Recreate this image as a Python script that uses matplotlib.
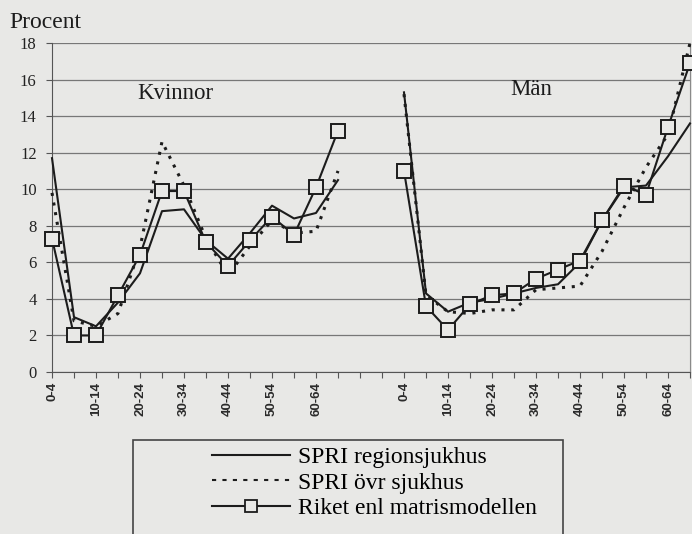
import matplotlib
matplotlib.use('Agg')
import matplotlib.pyplot as plt
import numpy as np
from matplotlib.lines import Line2D
from matplotlib.patches import Rectangle

# age groups, same for both sexes
ages = ['0-4', '5-9', '10-14', '15-19', '20-24', '25-29', '30-34',
        '35-39', '40-44', '45-49', '50-54', '55-59', '60-64', '65-69']

# Kvinnor
kv_region = [11.7, 3.0, 2.5, 3.8, 5.4, 8.8, 8.9, 7.2, 6.2, 7.6, 9.1, 8.4, 8.7, 10.5]
kv_ovr = [9.8, 2.8, 2.5, 3.2, 6.8, 12.6, 10.2, 7.3, 5.3, 6.9, 8.3, 7.6, 7.7, 11.0]
kv_riket = [7.3, 2.0, 2.0, 4.2, 6.4, 9.9, 9.9, 7.1, 5.8, 7.2, 8.5, 7.5, 10.1, 13.2]

# Män
man_region = [15.3, 4.3, 3.3, 3.8, 4.0, 4.3, 4.6, 4.8, 6.0, 8.3, 10.1, 10.2, 11.8, 13.6]
man_ovr = [15.2, 4.2, 3.3, 3.2, 3.4, 3.4, 4.5, 4.6, 4.7, 6.6, 9.0, 11.2, 13.0, 18.0]
man_riket = [11.0, 3.6, 2.3, 3.7, 4.2, 4.3, 5.1, 5.6, 6.1, 8.3, 10.2, 9.7, 13.4, 16.9]

series_names = ['SPRI regionsjukhus', 'SPRI övr sjukhus', 'Riket enl matrismodellen']

BG = '#e8e8e6'
INK = '#1c1c1c'
SERIF = 'Liberation Serif'

plt.rcParams['font.family'] = SERIF

fig = plt.figure(figsize=(6.92, 5.34), dpi=100, facecolor=BG)
ax = fig.add_axes([52/692, 1-372/534, (690-52)/692, (372-43)/534])
ax.set_facecolor(BG)

n = len(ages)
gap = 2
x_kv = np.arange(n)
x_man = np.arange(n) + n + gap

dots = (0, (1.0, 2.2))
for xs, reg, ovr, rik in [(x_kv, kv_region, kv_ovr, kv_riket),
                          (x_man, man_region, man_ovr, man_riket)]:
    ax.plot(xs, reg, color=INK, lw=1.5, zorder=3, clip_on=False)
    ax.plot(xs, ovr, color=INK, lw=2.2, ls=dots, zorder=3, clip_on=False)
    ax.plot(xs, rik, color=INK, lw=1.5, marker='s', ms=9.5, mfc=BG,
            mec=INK, mew=1.4, zorder=4, clip_on=False)

ax.set_xlim(0, 2*n + gap - 1)
ax.set_ylim(0, 18)
ax.set_yticks(np.arange(0, 19, 2))
ax.yaxis.grid(True, color='#777777', lw=0.9)
ax.set_axisbelow(True)

xt = np.arange(2*n + gap)
xl = []
for i in xt:
    if i < n and i % 2 == 0:
        xl.append(ages[i])
    elif i >= n + gap and (i - n - gap) % 2 == 0:
        xl.append(ages[i - n - gap])
    else:
        xl.append('')
ax.set_xticks(xt)
ax.set_xticklabels(xl, rotation=90, family='Liberation Sans',
                   fontweight='bold', fontsize=9.5, color='#2a2a2a')
ax.tick_params(axis='x', length=4, width=0.8, color='#555555', pad=3)
ax.tick_params(axis='y', length=4, width=0.8, color='#555555', pad=7,
               labelsize=12, labelcolor='#222222')

ax.spines['top'].set_visible(False)
ax.spines['right'].set_color('#8a8a8a')
ax.spines['left'].set_color('#555555')
ax.spines['bottom'].set_color('#555555')

ax.text(5.6, 15.25, 'Kvinnor', fontsize=16.5, ha='center', va='center', color=INK)
ax.text(21.8, 15.45, 'Män', fontsize=16.5, ha='center', va='center', color=INK)
fig.text(9/692, 1-22/534, 'Procent', fontsize=17, ha='left', va='center', color=INK)

handles = [Line2D([], [], color=INK, lw=1.5),
           Line2D([], [], color=INK, lw=1.5, ls=(0, (2, 3))),
           Line2D([], [], color=INK, lw=1.5, marker='s', ms=9, mfc=BG,
                  mec=INK, mew=1.3)]
fig.legend(handles, series_names, loc='center left',
           bbox_to_anchor=(212/692, 1-483/534), frameon=False, fontsize=17,
           handlelength=3.3, handletextpad=0.35, labelspacing=0.17,
           borderpad=0, borderaxespad=0)
fig.add_artist(Rectangle((133/692, -0.05), (563-133)/692, (534-440)/534 + 0.05,
                         transform=fig.transFigure, fill=False,
                         ec='#444444', lw=1.2))

fig.savefig('out.png', dpi=100, facecolor=BG)
